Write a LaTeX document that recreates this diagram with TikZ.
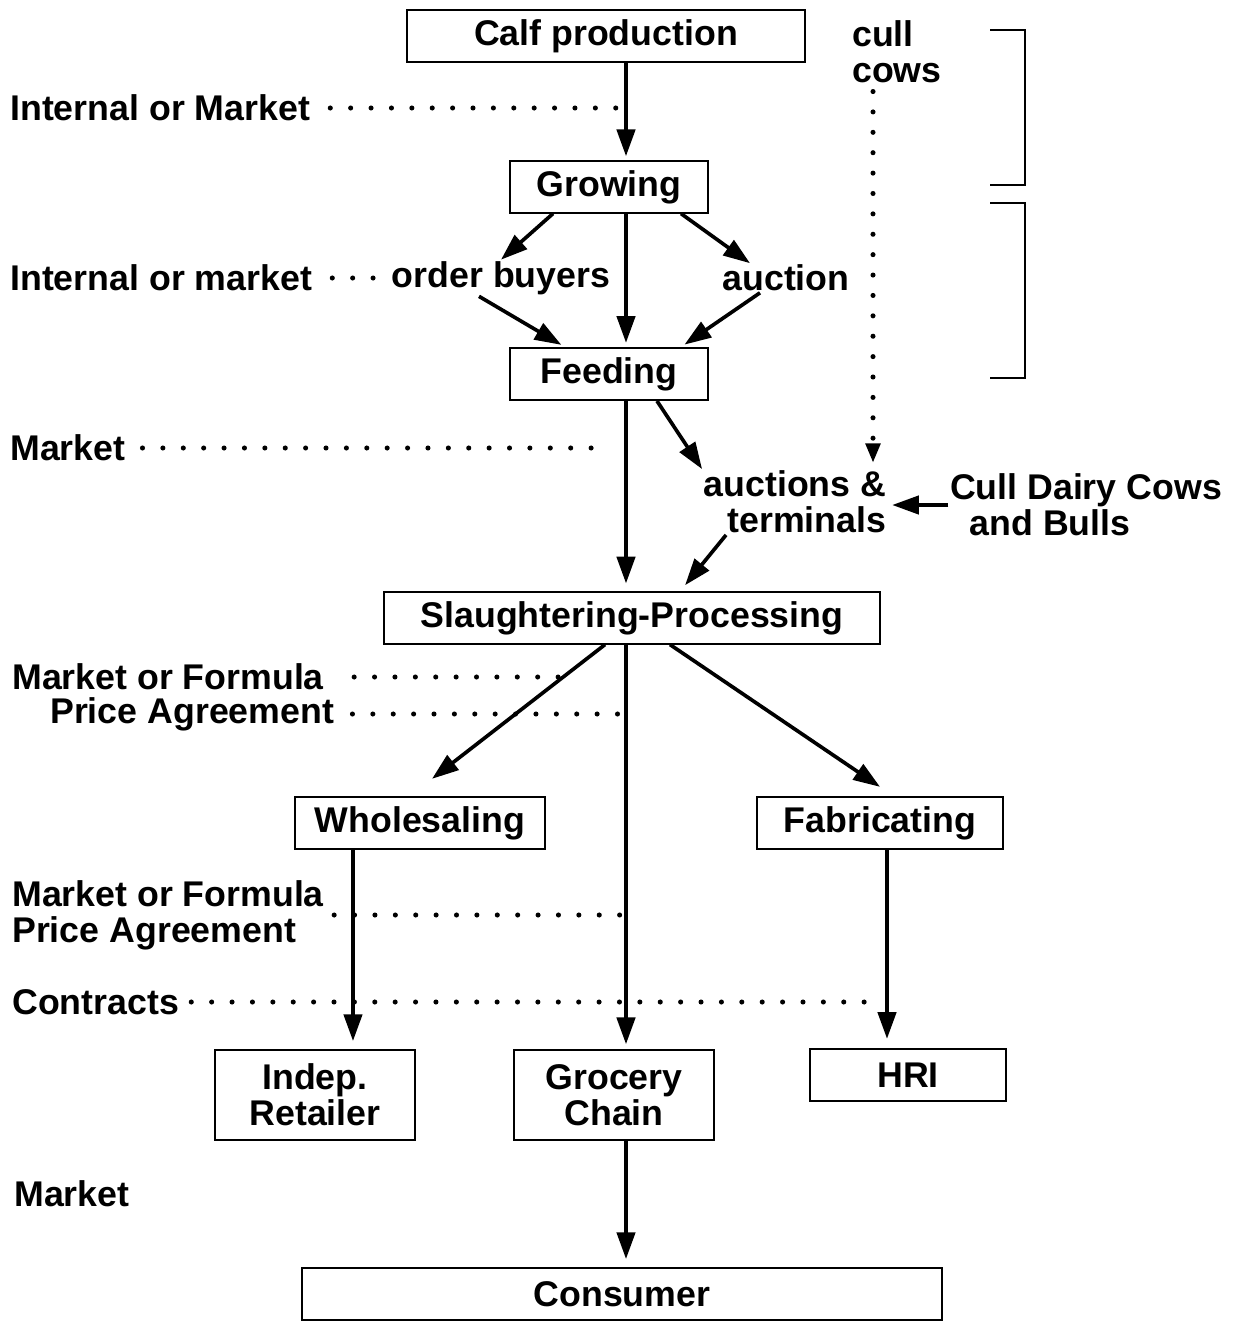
\documentclass[tikz,border=0pt]{standalone}
\usepackage{fontspec}
\setmainfont{Liberation Sans}
\usetikzlibrary{arrows.meta,positioning,calc}

\tikzset{
    box/.style={draw, line width=1.4pt, inner sep=0pt, minimum height=1.3cm, align=center},
    txt/.style={inner sep=1pt, align=center},
    lbl/.style={inner sep=0pt, anchor=west},
    arr/.style={line width=2.6pt, -{Triangle[length=19pt,width=13pt]}},
    dots/.style={line width=3.6pt, line cap=round, dash pattern=on 0pt off 14.5pt},
    brk/.style={line width=1.2pt}
}

\begin{document}
\begin{tikzpicture}[x=0.025cm, y=-0.025cm, font=\bfseries\fontsize{25.4}{25.8}\selectfont]
            \useasboundingbox (0,0) rectangle (1234,1322);
            \coordinate (spine) at (626,0);

            % stages
            \node[box, minimum width=9.925cm] (calf) at (606,36) {Calf production};
            \node[box, minimum width=4.95cm, minimum height=1.28cm] (grow) at (609,187) {Growing};
            \node[box, minimum width=4.95cm] (feed) at (609,374) {Feeding};
            \node[box, minimum width=12.375cm, minimum height=1.28cm] (slau) at (632,618) {Slaughtering-Processing};
            \node[box, minimum width=6.25cm, minimum height=1.32cm] (whole) at (420,823) {Wholesaling};
            \node[box, minimum width=6.125cm, minimum height=1.32cm] (fab) at (880,823) {Fabricating};
            \node[box, minimum width=5cm, minimum height=2.25cm] (ret) at (315,1095) {Indep.\\Retailer};
            \node[box, minimum width=4.975cm, minimum height=2.25cm] (groc) at (614,1095) {Grocery\\Chain};
            \node[box, minimum width=4.9cm, minimum height=1.32cm] (hri) at (908,1075) {HRI};
            \node[box, minimum width=16cm] (cons) at (622,1294) {Consumer};

            % go-betweens
            \node[txt] (ob) at (501,278) {order buyers};
            \node[txt] (auc) at (786,278) {auction};
            \node[txt, align=right, anchor=east] (at) at (888,502) {auctions \&\\terminals};
            \node[txt, align=left] (cdc) at (1086,505) {Cull Dairy Cows\\\hspace*{0.55em}and Bulls};
            \node[txt, align=left, anchor=west, inner sep=0pt] (cc) at (852,52) {cull\\cows};

            % pricing labels
            \node[lbl] (l1) at (10,108) {Internal or Market};
            \node[lbl] (l2) at (10,278) {Internal or market};
            \node[lbl] (l3) at (10,448) {Market};
            \node[lbl] (l4) at (12,677) {Market or Formula};
            \node[lbl] (l5) at (50,714) {Price Agreement};
            \node[lbl, align=left] (l6) at (12,915) {Market or Formula\\Price Agreement};
            \node[lbl] (l7) at (12,1002) {Contracts};
            \node[lbl] (l8) at (14,1194) {Market};

            \draw[dots, shorten <=0.5cm, shorten >=0.1cm] (l1.east) -- (l1.east -| spine);
            \draw[dots, shorten <=0.5cm, shorten >=0.12cm] (l2.east) -- (ob.west);
            \draw[dots, shorten <=0.42cm, shorten >=0.52cm] (l3.east) -- (l3.east -| spine);
            \draw[dots, shorten <=0.75cm, shorten >=1.65cm] (l4.east) -- (l4.east -| spine);
            \draw[dots, shorten <=0.45cm, shorten >=0.03cm] (l5.east) -- (l5.east -| spine);
            \draw[dots, shorten <=0.25cm, shorten >=0.1cm] (l6.east) -- (l6.east -| spine);
            \draw[dots, shorten <=0.3cm, shorten >=0.25cm] (l7.east) -- (l7.east -| fab.south);

            % cull cows
            \draw[dots, shorten <=0.2cm, shorten >=0.15cm, -{Triangle[length=14pt,width=10pt]}]
                ([xshift=0.525cm]cc.south west) -- ([xshift=0.525cm]cc.south west |- at.north);
            \draw[brk] (990,30) -- (1025,30) -- (1025,185) -- (990,185);
            \draw[brk] (990,203) -- (1025,203) -- (1025,378) -- (990,378);

            % flows
            \draw[arr, shorten >=3pt] (calf.south -| spine) -- (grow.north -| spine);
            \draw[arr, shorten >=3pt] (grow.south -| spine) -- (feed.north -| spine);
            \draw[arr, shorten >=0.2cm] (feed.south -| spine) -- (slau.north -| spine);
            \draw[arr, shorten >=0.12cm] (slau.south -| spine) -- (groc.north -| spine);
            \draw[arr, shorten >=0.2cm] (groc.south -| spine) -- (cons.north -| spine);

            \draw[arr] ([xshift=1.1cm]grow.south west) -- (ob.north);
            \draw[arr, shorten >=3pt] ([xshift=-0.55cm]ob.south) -- ([xshift=1.4cm]feed.north west);
            \draw[arr] ([xshift=-0.7cm]grow.south east) -- ([xshift=-0.9cm]auc.north);
            \draw[arr, shorten >=3pt] ([xshift=-0.65cm]auc.south) -- ([xshift=-0.7cm]feed.north east);
            \draw[arr] ([xshift=-1.3cm]feed.south east) -- (at.north west);
            \draw[arr, shorten >=0.2cm] ([xshift=0.6cm]at.south west) -- ([xshift=1.2cm]slau.north);
            \draw[arr, shorten >=3pt] (cdc.west) -- (cdc.west -| at.east);

            \draw[arr] ([xshift=-0.675cm]slau.south) -- ([xshift=0.3cm, yshift=0.42cm]whole.north);
            \draw[arr] ([xshift=0.95cm]slau.south) -- ([yshift=0.22cm]fab.north);
            \draw[arr, shorten >=0.2cm] ([xshift=-1.675cm]whole.south) -- ([xshift=-1.675cm]whole.south |- ret.north);
            \draw[arr, shorten >=0.22cm] ([xshift=0.175cm]fab.south) -- ([xshift=0.175cm]fab.south |- hri.north);
        \end{tikzpicture}
\end{document}
